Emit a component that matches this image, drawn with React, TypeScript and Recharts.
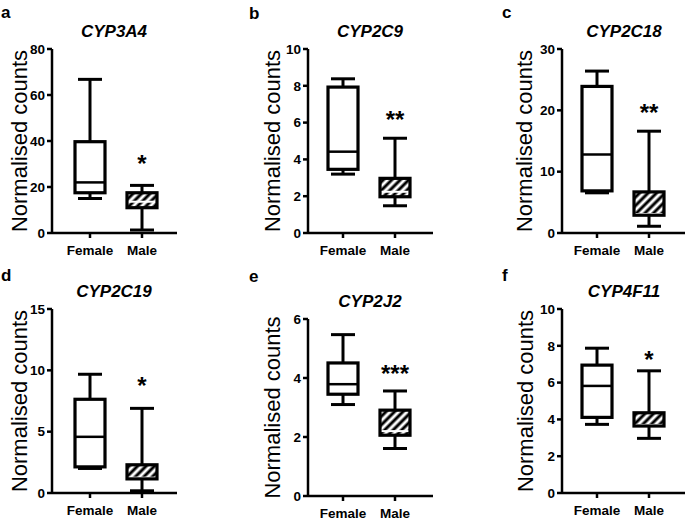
import React from 'react';
import { ComposedChart, Bar, XAxis, YAxis } from 'recharts';

const FONT = 'Arial, "Liberation Sans", Helvetica, sans-serif';

// chart values
const LETTERS = ['a', 'b', 'c', 'd', 'e', 'f'];
const GENES = ['CYP3A4', 'CYP2C9', 'CYP2C18', 'CYP2C19', 'CYP2J2', 'CYP4F11'];
const GROUPS = ['Female', 'Male'];
const Y_MAX = [80, 10, 30, 15, 6, 10];
const Y_TICKS = [
  [0, 20, 40, 60, 80],
  [0, 2, 4, 6, 8, 10],
  [0, 10, 20, 30],
  [0, 5, 10, 15],
  [0, 2, 4, 6],
  [0, 2, 4, 6, 8, 10],
];
// [min, q1, median, q3, max]
const FEMALE_STATS = [
  [15, 17.5, 22, 39.7, 66.8],
  [3.2, 3.46, 4.42, 7.93, 8.38],
  [6.55, 6.87, 12.8, 23.9, 26.4],
  [2.0, 2.13, 4.58, 7.64, 9.68],
  [3.1, 3.45, 3.79, 4.51, 5.47],
  [3.73, 4.11, 5.82, 6.95, 7.87],
];
const MALE_STATS = [
  [1.3, 11.0, 13.6, 17.5, 20.7],
  [1.48, 1.97, 2.24, 2.97, 5.15],
  [1.1, 2.9, 3.1, 6.7, 16.6],
  [0.18, 1.15, 1.25, 2.3, 6.9],
  [1.61, 2.06, 2.2, 2.91, 3.56],
  [2.97, 3.64, 3.7, 4.36, 6.64],
];
const SIG = ['*', '**', '**', '*', '***', '*'];
const SIG_AT = [30.7, 6.23, 19.9, 8.9, 4.19, 7.33];

// panel placement on the page
const LAYOUT = [
  { left: 0, top: 0, w: 228, axisX: 52, plotTop: 49, plotBottom: 233, plotW: 125, padL: 12, padR: 9, letterX: 1, letterY: 18, titleY: 37, labelX: 27 },
  { left: 228, top: 0, w: 227, axisX: 308, plotTop: 49, plotBottom: 233, plotW: 125, padL: 9, padR: 12, letterX: 249, letterY: 19, titleY: 37, labelX: 280 },
  { left: 455, top: 0, w: 230, axisX: 562, plotTop: 49, plotBottom: 233, plotW: 123, padL: 9, padR: 10, letterX: 502, letterY: 18, titleY: 37, labelX: 532 },
  { left: 0, top: 260, w: 228, axisX: 52, plotTop: 309, plotBottom: 493, plotW: 125, padL: 12, padR: 9, letterX: 1, letterY: 281, titleY: 297, labelX: 27 },
  { left: 228, top: 260, w: 227, axisX: 308, plotTop: 319, plotBottom: 496, plotW: 125, padL: 9, padR: 12, letterX: 249, letterY: 282, titleY: 307, labelX: 280 },
  { left: 455, top: 260, w: 230, axisX: 562, plotTop: 309, plotBottom: 493, plotW: 123, padL: 9, padR: 10, letterX: 502, letterY: 281, titleY: 297, labelX: 533 },
];

const CHART_H = 262;
const X_AXIS_H = 25;

const AXIS_CSS = `
.recharts-cartesian-axis-line, .recharts-cartesian-axis-tick-line {
  stroke: #000 !important;
  stroke-width: 2.5px !important;
}
`;

function BoxShape(props: any) {
  const { x, y, width, height, payload } = props;
  const top = Math.min(y, y + height);
  const span = Math.abs(height);
  const { min, q1, median, q3, max, group, sig, sigAt } = payload;
  const toY = (v: number) => top + ((max - v) / (max - min)) * span;
  const cx = x + width / 2;
  const cap = 12;
  const male = group === 'Male';
  const boxTop = toY(q3);
  const boxBottom = toY(q1);

  return (
    <g>
      <line x1={cx} x2={cx} y1={toY(max)} y2={boxTop} stroke="#000" strokeWidth={3} />
      <line x1={cx} x2={cx} y1={boxBottom} y2={toY(min)} stroke="#000" strokeWidth={3} />
      <line x1={cx - cap} x2={cx + cap} y1={toY(max)} y2={toY(max)} stroke="#000" strokeWidth={3} />
      <line x1={cx - cap} x2={cx + cap} y1={toY(min)} y2={toY(min)} stroke="#000" strokeWidth={3} />
      <rect x={x} y={boxTop} width={width} height={boxBottom - boxTop} fill={male ? 'url(#hatch)' : '#fff'} />
      <line
        x1={x}
        x2={x + width}
        y1={toY(median)}
        y2={toY(median)}
        stroke={male ? '#fff' : '#000'}
        strokeWidth={male ? 2 : 2.5}
      />
      <rect x={x} y={boxTop} width={width} height={boxBottom - boxTop} fill="none" stroke="#000" strokeWidth={3.2} />
      {sig && (
        <text x={cx} y={toY(sigAt) + 10} textAnchor="middle" fontSize={24} fontWeight="bold" fontFamily={FONT}>
          {sig}
        </text>
      )}
    </g>
  );
}

function Panel({ i }: { i: number }) {
  const L = LAYOUT[i];
  const rows = GROUPS.map((group, g) => {
    const s = g === 0 ? FEMALE_STATS[i] : MALE_STATS[i];
    return {
      group,
      min: s[0],
      q1: s[1],
      median: s[2],
      q3: s[3],
      max: s[4],
      sig: g === 1 ? SIG[i] : null,
      sigAt: SIG_AT[i],
    };
  });
  const yAxisW = L.axisX - L.left;
  const margin = {
    top: L.plotTop - L.top,
    right: L.w - yAxisW - L.plotW,
    bottom: L.top + CHART_H - L.plotBottom - X_AXIS_H,
    left: 0,
  };
  const tickStyle = { fontSize: 13.5, fontWeight: 'bold', fill: '#000', fontFamily: FONT };
  const midY = (L.plotTop + L.plotBottom) / 2 - L.top;
  const lx = L.labelX - L.left;

  return (
    <div style={{ position: 'absolute', left: L.left, top: L.top }}>
      <ComposedChart width={L.w} height={CHART_H} data={rows} margin={margin}>
        <XAxis
          dataKey="group"
          type="category"
          height={X_AXIS_H}
          padding={{ left: L.padL, right: L.padR }}
          stroke="#000"
          tick={tickStyle}
          tickSize={5}
          tickMargin={7}
          interval={0}
        />
        <YAxis
          width={yAxisW}
          domain={[0, Y_MAX[i]]}
          ticks={Y_TICKS[i]}
          interval={0}
          stroke="#000"
          tick={tickStyle}
          tickSize={5}
          tickMargin={2}
        />
        <Bar
          dataKey={(d: any) => [d.min, d.max]}
          barSize={30}
          shape={<BoxShape />}
          isAnimationActive={false}
        />
        <text x={L.letterX - L.left} y={L.letterY - L.top} fontSize={17} fontWeight="bold" fontFamily={FONT}>
          {LETTERS[i]}
        </text>
        <text
          x={L.axisX - L.left + 62}
          y={L.titleY - L.top}
          textAnchor="middle"
          fontSize={17}
          fontWeight="bold"
          fontStyle="italic"
          fontFamily={FONT}
        >
          {GENES[i]}
        </text>
        <text
          x={lx}
          y={midY}
          textAnchor="middle"
          fontSize={22}
          fontFamily={FONT}
          transform={`rotate(-90, ${lx}, ${midY})`}
        >
          Normalised counts
        </text>
      </ComposedChart>
    </div>
  );
}

export default function App() {
  return (
    <div style={{ position: 'absolute', left: 0, top: 0, width: 685, height: 522, background: '#fff' }}>
      <style>{AXIS_CSS}</style>
      <svg width={0} height={0} style={{ position: 'absolute' }}>
        <defs>
          <pattern id="hatch" patternUnits="userSpaceOnUse" width={6} height={6} patternTransform="rotate(45)">
            <rect width={6} height={6} fill="#fff" />
            <line x1={3} y1={0} x2={3} y2={6} stroke="#000" strokeWidth={3} />
          </pattern>
        </defs>
      </svg>
      {LAYOUT.map((_, i) => (
        <Panel key={i} i={i} />
      ))}
    </div>
  );
}
